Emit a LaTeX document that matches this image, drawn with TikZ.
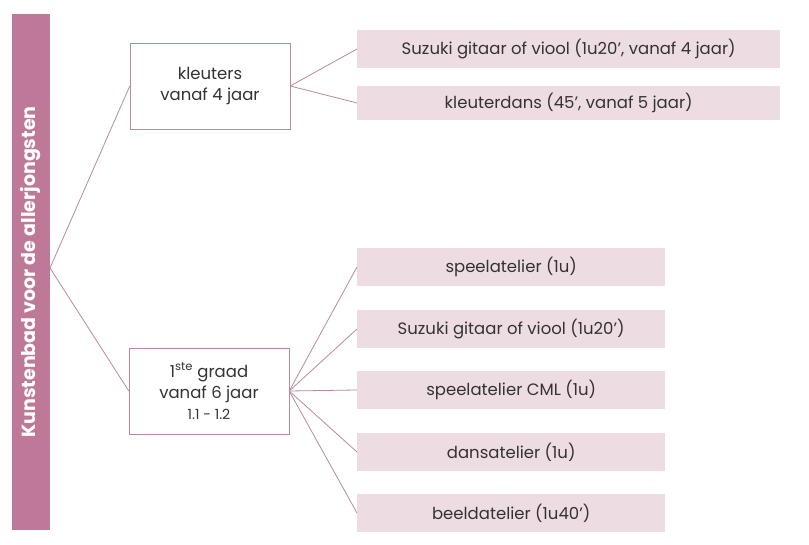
\documentclass[tikz,border=0pt]{standalone}
\usepackage{fontspec}
\setmainfont{Poppins}
\definecolor{barpink}{HTML}{BE7898}
\definecolor{lightpink}{HTML}{EDDDE3}
\definecolor{linepink}{HTML}{B88A9C}
\begin{document}
\begin{tikzpicture}[x=1pt,y=-1pt,font=\fontsize{16.5}{21}\selectfont,
    group/.style={rectangle, draw=linepink, fill=white, align=center,
        minimum width=160pt, minimum height=86pt, inner sep=2pt, text=black!80},
    item/.style={rectangle, fill=lightpink, align=center, minimum height=38pt,
        anchor=west, text=black!80},
    link/.style={draw=linepink, line width=0.8pt}]
    \useasboundingbox (0,0) rectangle (809,545);

    \node(bar) [rectangle, fill=barpink, minimum height=38pt, minimum width=515pt,
        text=white, font=\fontsize{19}{22}\selectfont\bfseries, rotate=90]
        at (31,272) {Kunstenbad voor de allerjongsten};
    \coordinate(root) at (50,268);

    \node(kleuters) [group] at (210,86) {kleuters\\vanaf 4 jaar};
    \node(graad) [group] at (209,391)
        {1\textsuperscript{ste} graad\\vanaf 6 jaar\\{\fontsize{14}{18}\selectfont 1.1 - 1.2}};

    \node(suzukia) [item, minimum width=423pt] at (357,49)
        {Suzuki gitaar of viool (1u20', vanaf 4 jaar)};
    \node(dans) [item, minimum width=423pt, minimum height=34pt] at (357,103)
        {kleuterdans (45', vanaf 5 jaar)};

    \node(speel) [item, minimum width=308pt] at (357,267) {speelatelier (1u)};
    \node(suzukib) [item, minimum width=308pt] at (357,329) {Suzuki gitaar of viool (1u20')};
    \node(cml) [item, minimum width=308pt] at (357,390) {speelatelier CML (1u)};
    \node(dansat) [item, minimum width=308pt] at (357,452) {dansatelier (1u)};
    \node(beeld) [item, minimum width=308pt] at (357,513) {beeldatelier (1u40')};

    \draw[link] (root) -- (kleuters.west);
    \draw[link] (root) -- (graad.west);
    \draw[link] (kleuters.east) -- (suzukia.west);
    \draw[link] (kleuters.east) -- (dans.west);
    \foreach \n in {speel,suzukib,cml,dansat,beeld}
        \draw[link] (graad.east) -- (\n.west);
\end{tikzpicture}
\end{document}
